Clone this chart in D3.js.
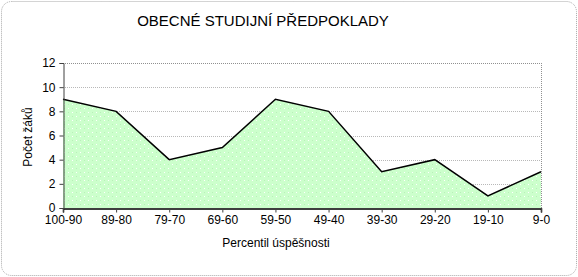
<!DOCTYPE html>
<html>
<head>
<meta charset="utf-8">
<script src="https://cdn.jsdelivr.net/npm/d3@7"></script>
<style>
  body { margin: 0; background: #fff; }
  text { font-family: Arial, "Liberation Sans", sans-serif; fill: #000; }
</style>
</head>
<body>
<script>
// data
var categories = ["100-90", "89-80", "79-70", "69-60", "59-50", "49-40", "39-30", "29-20", "19-10", "9-0"];
var counts = [9, 8, 4, 5, 9, 8, 3, 4, 1, 3];
var yTicks = [0, 2, 4, 6, 8, 10, 12];

var width = 578, height = 277;
var plot = {left: 63, right: 541, top: 63, bottom: 208};

var svg = d3.select("body")
    .append("svg")
        .attr("width", width)
        .attr("height", height);

// outer frame
svg.append("rect")
    .attr("x", 1.5).attr("y", 1.5)
    .attr("width", width - 3).attr("height", height - 3)
    .attr("rx", 10).attr("ry", 10)
    .attr("fill", "none")
    .attr("stroke", "#a8a8a8")
    .attr("stroke-dasharray", "1,1");

// dotted fill pattern
var defs = svg.append("defs");
var pat = defs.append("pattern")
    .attr("id", "dots")
    .attr("patternUnits", "userSpaceOnUse")
    .attr("width", 8).attr("height", 8);
pat.append("rect").attr("width", 8).attr("height", 8).attr("fill", "#ccffcc");
pat.append("rect").attr("x", 0).attr("y", 0).attr("width", 1).attr("height", 1).attr("fill", "#ffffff");
pat.append("rect").attr("x", 4).attr("y", 4).attr("width", 1).attr("height", 1).attr("fill", "#ffffff");
pat.append("rect").attr("x", 4).attr("y", 0).attr("width", 1).attr("height", 1).attr("fill", "#b8f0b8");
pat.append("rect").attr("x", 0).attr("y", 4).attr("width", 1).attr("height", 1).attr("fill", "#b8f0b8");

var x = d3.scalePoint()
    .domain(categories)
    .range([plot.left, plot.right]);

var y = d3.scaleLinear()
    .domain([0, 12])
    .range([plot.bottom, plot.top]);

// gridlines
svg.append("g")
    .selectAll("line")
    .data(yTicks.filter(function(d) { return d > 0; }))
    .enter()
    .append("line")
        .attr("x1", plot.left).attr("x2", plot.right)
        .attr("y1", function(d) { return Math.round(y(d)) + 0.5; })
        .attr("y2", function(d) { return Math.round(y(d)) + 0.5; })
        .attr("stroke", function(d) { return d === 12 ? "#909090" : "#b8b8b8"; })
        .attr("stroke-dasharray", "1,1");

// right border
svg.append("line")
    .attr("x1", plot.right + 0.5).attr("x2", plot.right + 0.5)
    .attr("y1", plot.top).attr("y2", plot.bottom)
    .attr("stroke", "#909090")
    .attr("stroke-dasharray", "1,1");

// area
var area = d3.area()
    .x(function(d, i) { return x(categories[i]); })
    .y0(y(0))
    .y1(function(d) { return y(d); });

svg.append("path")
    .datum(counts)
    .attr("d", area)
    .attr("fill", "url(#dots)");

var line = d3.line()
    .x(function(d, i) { return x(categories[i]); })
    .y(function(d) { return y(d); });

svg.append("path")
    .datum(counts)
    .attr("d", line)
    .attr("fill", "none")
    .attr("stroke", "#000")
    .attr("stroke-width", 1.5);

// axes
var bottomAxis = d3.axisBottom(x).tickSize(4).tickPadding(3);
var xg = svg.append("g")
    .attr("transform", "translate(0," + (plot.bottom + 0.5) + ")")
    .call(bottomAxis);
xg.select(".domain").attr("stroke", "#000").attr("stroke-width", 1.5);
xg.selectAll(".tick line").attr("stroke", "#404040");
xg.selectAll("text").attr("font-size", "12px").style("font-family", "Arial, 'Liberation Sans', sans-serif");

var leftAxis = d3.axisLeft(y).tickValues(yTicks).tickSize(4).tickPadding(4);
var yg = svg.append("g")
    .attr("transform", "translate(" + (plot.left + 0.5) + ",0)")
    .call(leftAxis);
yg.select(".domain").attr("stroke", "#404040");
yg.selectAll(".tick line").attr("stroke", "#404040");
yg.selectAll("text").attr("font-size", "12px").style("font-family", "Arial, 'Liberation Sans', sans-serif");

// title and labels
svg.append("text")
    .attr("x", 263)
    .attr("y", 26)
    .attr("font-size", "15px")
    .attr("text-anchor", "middle")
    .text("OBECNÉ STUDIJNÍ PŘEDPOKLADY");

svg.append("text")
    .attr("x", 276)
    .attr("y", 247)
    .attr("font-size", "12px")
    .attr("text-anchor", "middle")
    .text("Percentil úspěšnosti");

svg.append("text")
    .attr("x", -137)
    .attr("y", 32)
    .attr("font-size", "12px")
    .attr("text-anchor", "middle")
    .attr("transform", "rotate(-90)")
    .text("Počet žáků");
</script>
</body>
</html>
